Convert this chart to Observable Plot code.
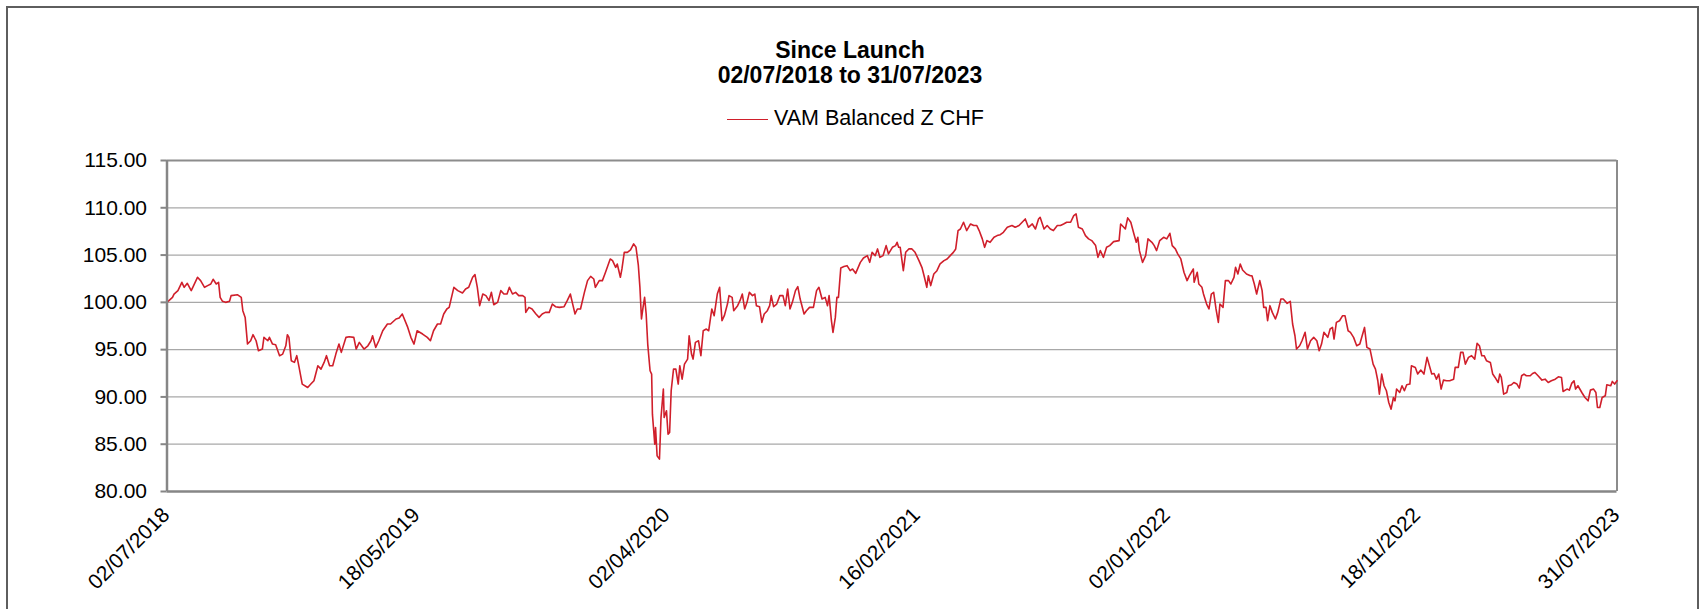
<!DOCTYPE html>
<html>
<head>
<meta charset="utf-8">
<script src="https://cdn.jsdelivr.net/npm/d3@7"></script>
<script src="https://cdn.jsdelivr.net/npm/@observablehq/plot@0.6"></script>
<style>
  html, body { margin: 0; padding: 0; background: #fff; overflow: hidden; }
  body { width: 1706px; height: 609px; position: relative; font-family: "Liberation Sans", Arial, sans-serif; }
  #header { position: relative; width: 1706px; height: 140px; }
  .t { position: absolute; left: 0; width: 1700px; text-align: center; font-weight: bold; font-size: 23px; line-height: 25px; color: #000; white-space: nowrap; }
  #legtext { position: absolute; left: 774px; top: 105.5px; font-size: 21.5px; line-height: 24px; color: #000; white-space: nowrap; }
  #legline { position: absolute; left: 727px; top: 118.5px; width: 41px; height: 1.6px; background: #d01f2b; }
  #frame { position: absolute; left: 6px; top: 6px; width: 1693px; height: 700px; box-sizing: border-box; border: 2px solid #5e5e5e; pointer-events: none; z-index: 5; }
  #chart svg { display: block; }
</style>
</head>
<body>
<div id="header">
  <div class="t" style="top:37.7px">Since Launch</div>
  <div class="t" style="top:62.7px">02/07/2018 to 31/07/2023</div>
  <div id="legline"></div>
  <div id="legtext">VAM Balanced Z CHF</div>
</div>
<div id="chart"></div>
<div id="frame"></div>
<script>
// Series: days since launch (02/07/2018) and NAV values
const seriesName = "VAM Balanced Z CHF";
const launchDate = "2018-07-02";
const endDate = "2023-07-31";
const days = [
0,7,9,14,19,22,26,31,33,39,43,48,52,56,59,63,66,68,71,75,80,82,90,95,97,100,103,107,110,114,117,122,124,129,131,135,139,144,148,152,154,156,159,163,166,169,173,180,184,188,193,197,201,204,208,212,216,220,223,229,233,239,242,246,252,257,261,263,267,271,276,282,286,293,297,301,308,312,316,320,327,333,337,341,346,350,354,358,361,363,367,372,378,382,386,391,394,397,400,404,408,412,415,418,423,427,431,435,438,442,446,450,455,458,459,463,467,472,476,480,484,489,493,497,502,508,512,516,519,522,525,529,534,538,542,546,548,553,557,561,567,570,574,576,580,582,585,589,593,597,600,603,
605,607,609,611,613,615,618,620,621,622,624,625,627,630,632,635,636,639,641,643,645,648,651,654,656,659,662,666,668,671,673,676,680,683,686,690,693,697,700,704,707,710,713,717,719,723,725,730,733,736,739,742,745,749,752,754,758,761,764,768,771,773,776,780,784,788,791,794,797,800,804,807,810,815,818,822,827,831,834,838,842,845,847,850,852,855,857,859,862,866,870,874,877,881,884,887,891,896,899,902,906,909,912,916,920,923,928,932,934,936,938,942,945,949,953,957,962,966,969,972,974,977,981,985,989,994,998,1002,1006,1009,1012,1015,1019,1023,1028,1032,1036,1039,1043,1046,1049,1053,1058,1062,1066,1070,1075,1081,1085,1090,1094,1098,1102,1107,1111,1115,1117,1122,1126,1130,1134,1139,1143,1147,1151,1156,1160,1163,1166,1171,1175,1179,1183,1188,1191,1194,
1198,1202,1206,1211,1218,1220,1224,1226,1229,1233,1237,1240,1242,1244,1248,1252,1255,1260,1263,1266,1270,1275,1279,1283,1286,1290,1293,1297,1301,1305,1308,1313,1314,1318,1320,1324,1326,1330,1333,1336,1339,1342,1345,1347,1351,1354,1358,1361,1365,1367,1370,1373,1376,1381,1386,1388,1391,1394,1398,1401,1403,1406,1408,1411,1414,1418,1421,1425,1428,1433,1437,1440,1443,1445,1449,1452,1456,1459,1463,1467,1471,1474,1477,1480,1485,1488,1491,1493,1496,1500,1504,1507,1511,
1514,1518,1522,1526,1532,1535,1539,1543,1546,1549,1551,1554,1557,1560,1563,1566,1569,1571,1573,1577,1580,1583,1586,1590,1592,1597,1600,1604,1608,1612,1615,1618,1621,1624,1627,1630,1633,1637,1641,1646,1648,1652,1655,1658,1661,1665,1669,1673,1676,1679,1682,1685,1688,1693,1696,1699,1703,1705,1707,1710,1714,1716,1720,1723,1727,1730,1733,1736,1739,1744,1747,1750,1754,1759,1763,1767,1771,1776,1780,1784,1786,1791,1794,1797,1800,1802,1805,1810,1814,1818,1821,1825,1828,1830,1833,1836,1840,1842,1847,1849,1852,1855
];
const nav = [
100.00,100.53,100.88,101.24,102.12,101.59,102.01,101.24,101.59,102.65,102.30,101.59,101.77,101.94,102.44,101.94,102.12,100.53,100.11,100.00,100.11,100.71,100.81,100.53,99.12,98.41,95.59,95.94,96.58,95.94,94.88,95.06,96.30,95.94,96.30,95.59,95.52,94.36,94.53,95.41,96.58,96.30,93.83,93.65,94.36,93.12,91.36,91.00,91.36,91.71,93.30,92.94,93.65,94.36,93.30,93.30,94.53,95.59,94.71,96.30,96.37,96.30,95.06,95.77,95.06,95.41,95.94,96.47,95.24,95.94,97.00,97.71,97.71,98.24,98.34,98.77,97.35,96.30,95.59,97.00,96.65,96.30,95.94,97.00,97.71,97.71,98.77,99.30,99.47,100.18,101.59,101.24,100.99,101.41,101.59,102.65,102.93,101.59,99.65,100.88,100.71,100.18,101.06,99.75,100.00,101.24,100.88,100.88,101.59,100.88,101.06,100.71,100.71,100.53,98.94,99.47,99.30,98.77,98.41,98.77,98.94,98.94,99.82,99.54,99.47,99.54,100.18,100.88,99.82,98.77,99.30,99.30,101.06,102.30,102.75,102.47,101.59,102.30,102.30,103.18,104.59,104.41,103.70,104.06,102.65,103.53,105.29,105.29,105.54,106.18,105.82,103.90,
101.59,98.24,99.47,100.53,98.77,95.59,92.77,92.42,88.18,87.12,85.00,86.77,83.77,83.42,87.83,90.83,87.83,88.53,86.06,86.24,90.65,92.94,92.94,91.36,93.30,91.88,93.47,94.00,96.47,94.53,94.00,95.77,95.94,94.36,97.00,97.18,97.00,99.30,98.59,100.88,101.59,98.06,98.59,99.82,100.71,100.53,99.12,99.65,100.18,100.88,99.30,100.00,101.06,100.71,100.88,99.65,99.54,97.88,98.77,99.12,99.65,100.71,99.54,99.82,100.71,100.71,99.65,101.41,99.30,100.00,101.24,101.66,100.35,98.77,99.12,99.47,99.47,101.24,101.59,100.35,100.53,99.65,100.71,98.06,96.83,98.41,100.53,100.53,103.64,103.78,103.88,103.35,103.53,103.07,103.64,104.23,104.69,104.94,104.23,105.29,104.94,105.65,104.76,104.94,106.00,105.12,105.82,106.00,106.35,105.82,105.82,103.35,105.29,105.65,105.65,105.29,104.41,103.64,102.65,101.59,102.82,101.77,103.00,103.35,104.06,104.41,104.59,104.94,105.29,105.65,107.59,107.76,108.47,107.59,108.29,108.12,108.12,107.59,106.71,105.82,106.53,106.35,106.88,107.06,107.16,107.41,107.94,108.12,107.94,108.12,108.47,108.82,107.94,108.29,107.76,108.82,109.00,107.76,108.12,107.76,107.59,108.12,108.12,108.29,108.47,108.47,109.18,109.35,107.94,107.76,107.06,106.71,106.53,106.00,104.76,105.47,
104.76,105.82,106.00,106.42,106.53,108.29,107.94,107.76,108.93,108.47,107.23,106.35,106.88,105.47,104.23,104.94,106.71,106.35,106.00,105.47,106.53,106.88,106.71,107.30,106.00,105.65,105.12,104.59,103.18,102.30,102.82,103.53,102.12,103.18,101.94,101.59,100.88,99.82,99.30,100.88,101.06,99.30,97.88,99.82,99.47,102.30,102.30,101.94,102.65,103.70,103.00,104.06,103.42,103.00,102.82,102.82,101.94,100.88,102.30,101.24,99.47,99.47,98.06,99.65,98.94,98.24,98.94,100.35,100.35,99.89,100.11,97.71,96.47,95.06,95.41,95.94,96.83,95.06,95.94,96.30,95.94,94.88,95.59,96.83,96.30,97.18,97.35,96.12,97.88,98.06,98.59,98.59,97.00,
96.83,96.30,95.41,95.59,97.35,95.24,95.06,93.47,92.94,91.71,90.30,92.42,91.18,90.65,89.41,88.71,89.94,89.59,90.83,90.47,91.18,90.65,91.29,91.36,93.30,93.12,92.42,92.84,92.42,94.18,93.30,92.42,92.48,91.88,92.42,90.83,91.78,91.71,91.71,91.88,93.12,93.12,94.71,94.71,93.47,94.18,94.36,94.00,95.66,95.41,94.36,94.36,93.83,93.65,92.42,92.06,91.53,92.42,92.06,90.30,90.47,91.18,91.29,91.53,91.36,90.94,92.24,92.42,92.24,92.24,92.48,92.59,92.24,91.78,91.88,91.53,91.71,91.88,92.13,92.06,90.58,90.83,90.72,91.43,91.71,90.83,91.18,90.47,89.94,89.59,90.72,90.83,90.47,88.88,88.88,89.94,90.12,91.29,91.18,91.64,91.36,91.71
];
const yTicks = [80, 85, 90, 95, 100, 105, 110, 115];
const xTickLabels = ["02/07/2018", "18/05/2019", "02/04/2020", "16/02/2021", "02/01/2022", "18/11/2022", "31/07/2023"];

const parseDMY = d3.utcParse("%d/%m/%Y");
const fmtDMY = d3.utcFormat("%d/%m/%Y");
const start = new Date(launchDate + "T00:00:00Z");
const end = new Date(endDate + "T00:00:00Z");
const n = Math.min(days.length, nav.length);
const data = [];
for (let i = 0; i < n; i++) data.push({date: d3.utcDay.offset(start, days[i]), nav: nav[i]});
const xTicks = xTickLabels.map(parseDMY);

const font = "'Liberation Sans', Arial, sans-serif";
const chart = Plot.plot({
  width: 1706,
  height: 469,
  marginLeft: 166.5,
  marginRight: 89.5,
  marginTop: 20,
  marginBottom: 118,
  style: {fontFamily: font, fontSize: "21px", background: "transparent", overflow: "visible", color: "#000"},
  x: {type: "utc", domain: [start, end], axis: null},
  y: {domain: [80, 115], axis: null},
  marks: [
    Plot.ruleY(yTicks.filter(v => v > 80 && v < 115), {stroke: "#a8a8a8", strokeWidth: 1.3}),
    Plot.ruleY([115], {stroke: "#8c8c8c", strokeWidth: 2}),
    Plot.ruleX([end], {stroke: "#8c8c8c", strokeWidth: 2}),
    Plot.axisY(yTicks, {tickSize: 6, tickPadding: 14, stroke: "#868686", strokeWidth: 2, fill: "#000", tickFormat: d3.format(".2f"), label: null, fontSize: 21}),
    Plot.line(data, {x: "date", y: "nav", stroke: "#d01f2b", strokeWidth: 1.6, strokeLinejoin: "round"}),
    Plot.ruleX([start], {stroke: "#868686", strokeWidth: 2.5}),
    Plot.ruleY([80], {stroke: "#868686", strokeWidth: 2.5}),
    Plot.text(xTicks, {x: d => d, frameAnchor: "bottom", text: d => fmtDMY(d), rotate: -45, textAnchor: "end", lineAnchor: "middle", dx: -1, dy: 20, fontSize: 21, fill: "#000"})
  ]
});
document.getElementById("chart").appendChild(chart);
</script>
</body>
</html>
